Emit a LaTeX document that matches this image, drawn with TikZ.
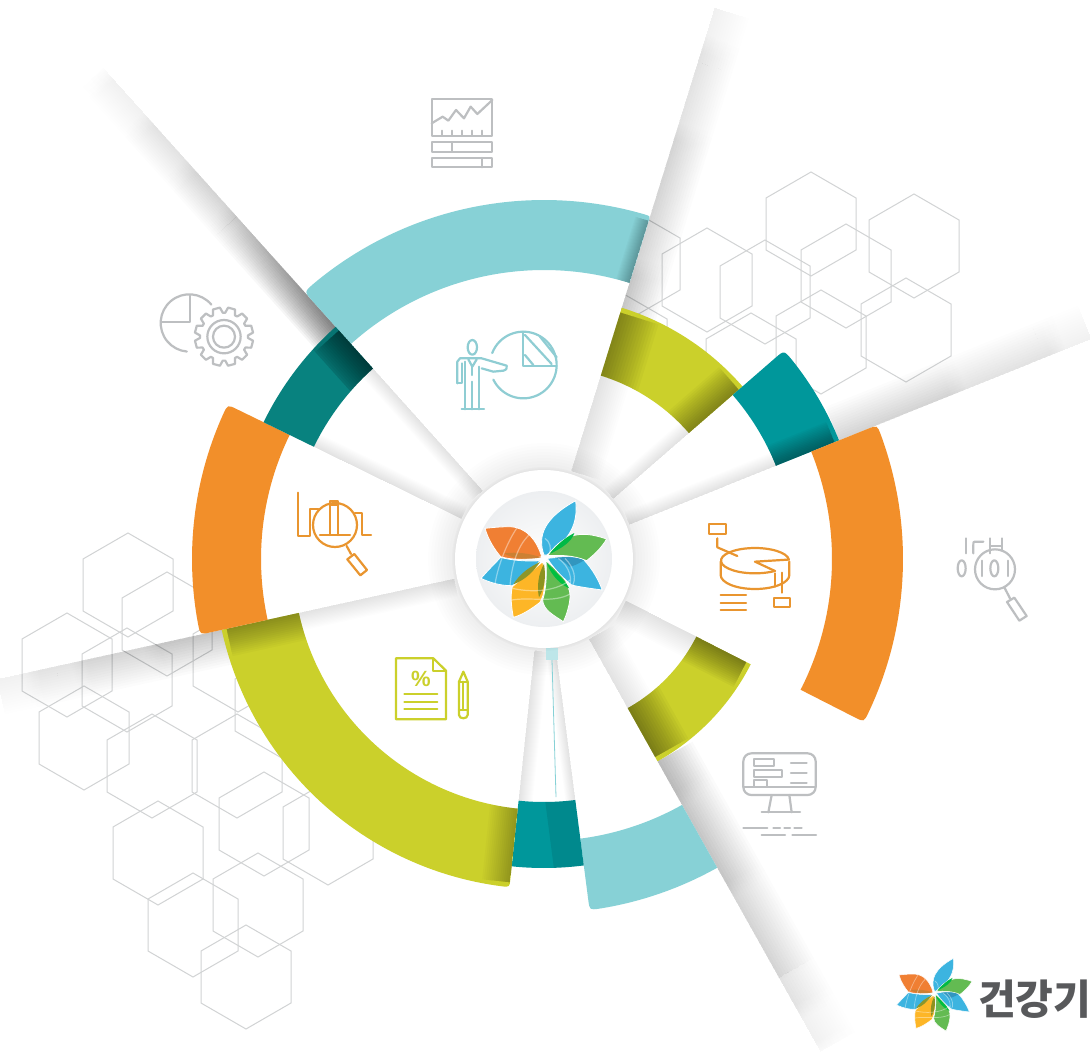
\documentclass[tikz,border=0pt]{standalone}
\usepackage{fontspec}
\newfontfamily\kr{Noto Sans CJK KR}
\newfontfamily\lib{Liberation Sans}
\definecolor{lteal}{HTML}{87D1D6}
\definecolor{ygreen}{HTML}{CBD02B}
\definecolor{dteal}{HTML}{00979B}
\definecolor{dteal2}{HTML}{08827F}
\definecolor{oran}{HTML}{F28F2A}
\definecolor{hexc}{HTML}{D1D3D4}
\definecolor{icg}{HTML}{BDBFC1}
\definecolor{ict}{HTML}{8FCDD3}
\definecolor{ico}{HTML}{E9952F}
\definecolor{lblue}{HTML}{3CB4E0}
\definecolor{lgreen}{HTML}{63BB52}
\definecolor{lorange}{HTML}{F07F33}
\definecolor{lyellow}{HTML}{FDB627}
\definecolor{discedge}{HTML}{EDEFF1}
\definecolor{brandgray}{HTML}{58595B}
\tikzset{
 hexline/.style={draw=hexc,line width=1pt,line join=miter},
 icon/.style={line width=2.2pt,line cap=round,line join=round},
}
% sector set-up
\newcommand\setsec[6]{\def\aA{#1}\def\aB{#2}\def\rI{#3}\def\rO{#4}%
 \pgfmathsetmacro\aAd{#1+#5/#4*57.3}\pgfmathsetmacro\aBd{#2-#6/#4*57.3}%
 \pgfmathsetmacro\rAm{#4-#5}\pgfmathsetmacro\rBm{#4-#6}}
\newcommand\secpath{(\aA:\rI) -- (\aA:\rAm) .. controls (\aA:\rO) .. (\aAd:\rO) arc[start angle=\aAd,end angle=\aBd,radius=\rO] .. controls (\aB:\rO) .. (\aB:\rBm) -- (\aB:\rI) arc[start angle=\aB,end angle=\aA,radius=\rI] -- cycle}
% gradient ray: angle, dir, r0, r1, width, alpha0, alpha1
\newcommand\fadeRay[7]{%
 \begin{scope}[rotate=#1]
 \pgfmathtruncatemacro\segs{(#6==#7) ? 1 : max(1,round((#4-#3)/18))}
 \pgfmathsetmacro\seglen{(#4-#3)/\segs}
 \foreach \k in {1,...,14}{
  \pgfmathsetmacro\phs{(\segs==1) ? 0 : mod(\k*0.382,1)}
  \foreach \j in {0,...,\segs}{
   \pgfmathsetmacro\ra{max(#3,#3+\seglen*(\j-1+\phs))}
   \pgfmathsetmacro\rb{min(#4,#3+\seglen*(\j+\phs))}
   \pgfmathsetmacro\al{(#6+(#7-#6)*((\ra+\rb)/2-#3)/(#4-#3))/14}
   \fill[black,fill opacity=\al] (\ra,0) rectangle (\rb,#2*#5*\k/14);
  }}
 \end{scope}}
\newcommand\ringshade[5]{\begin{scope}\clip \secpath;\fadeRay{#1}{#2}{\rI-5}{\rO+5}{#3}{#4}{#5}\end{scope}}
\newcommand\ringband[4]{\begin{scope}\clip \secpath;\begin{scope}[rotate=#1]\fill[black,fill opacity=#4] (\rI-5,0) rectangle (\rO+5,#2*#3);\end{scope}\end{scope}}
\newcommand\pie[3]{\fill[white] (0,0) -- (#1:#3) arc[start angle=#1,end angle=#2,radius=#3] -- cycle;}
% logo
\newcommand\logo[4]{%
 \begin{scope}[shift={(#1,#2)},scale=#3,shift={(-345,-350)}]
 \tikzset{pet/.style={draw=white,line width=#4}}
 \fill[lorange,pet] (335,350) .. controls (320,300) and (290,262) .. (240,260) .. controls (215,260) and (190,262) .. (165,265) .. controls (175,300) and (195,330) .. (212,350) .. controls (250,362) and (300,358) .. (335,350) -- cycle;
 \fill[lblue,pet] (330,362) .. controls (285,365) and (240,360) .. (212,352) .. controls (190,375) and (170,395) .. (153,415) .. controls (185,430) and (215,437) .. (247,437) .. controls (275,415) and (310,390) .. (330,362) -- cycle;
 \fill[lyellow,pet] (338,365) .. controls (350,420) and (345,460) .. (330,487) .. controls (300,510) and (275,525) .. (250,532) .. controls (245,505) and (240,470) .. (247,440) .. controls (275,415) and (310,390) .. (338,365) -- cycle;
 \fill[lgreen,pet] (348,362) .. controls (385,395) and (420,420) .. (420,470) .. controls (420,490) and (410,525) .. (400,545) .. controls (370,525) and (340,510) .. (338,480) .. controls (350,440) and (350,400) .. (348,362) -- cycle;
 \fill[lblue,pet] (352,355) .. controls (400,350) and (440,345) .. (462,360) .. controls (490,390) and (505,420) .. (517,450) .. controls (480,445) and (445,440) .. (425,435) .. controls (400,415) and (370,385) .. (352,355) -- cycle;
 \fill[lblue,pet] (342,345) .. controls (322,290) and (340,235) .. (437,182) .. controls (445,250) and (420,300) .. (350,345) -- cycle;
 \fill[lgreen,pet] (352,347) .. controls (395,290) and (440,265) .. (530,297) .. controls (510,330) and (490,345) .. (470,362) .. controls (430,345) and (390,345) .. (352,347) -- cycle;
 % overlaps
 \fill[green!45!teal] (358,342) .. controls (385,310) and (410,290) .. (433,279) .. controls (425,305) and (395,325) .. (358,342) -- cycle;
 \fill[cyan!50!teal] (375,353) .. controls (410,350) and (440,350) .. (462,361) .. controls (445,372) and (430,378) .. (418,380) .. controls (405,365) and (390,358) .. (375,353) -- cycle;
 \fill[green!50!teal] (350,368) .. controls (375,395) and (400,415) .. (418,445) .. controls (395,435) and (365,410) .. (350,368) -- cycle;
 \fill[olive!70!lgreen] (342,372) .. controls (348,410) and (345,440) .. (327,472) .. controls (320,440) and (325,400) .. (342,372) -- cycle;
 \fill[olive!60!lgreen] (330,366) .. controls (310,395) and (285,420) .. (250,433) .. controls (270,400) and (300,380) .. (330,366) -- cycle;
 \fill[brown!80!orange] (222,340) .. controls (260,335) and (300,340) .. (333,352) .. controls (300,358) and (255,360) .. (222,340) -- cycle;
 % latitude lines
 \begin{scope}[white,opacity=.4,line width=#4*1.5]
 \draw (262,262) .. controls (235,300) and (205,370) .. (195,432);
 \draw (297,285) .. controls (260,320) and (245,380) .. (240,437);
 \draw (248,445) .. controls (290,455) and (370,460) .. (420,420);
 \draw (245,480) .. controls (300,470) and (370,490) .. (420,462);
 \draw (385,355) .. controls (420,380) and (430,420) .. (415,450);
 \draw (405,355) .. controls (435,385) and (440,420) .. (425,440);
 \draw (345,295) .. controls (360,305) and (365,325) .. (358,342);
 \end{scope}
 \end{scope}}
\begin{document}
\begin{tikzpicture}[x=1pt,y=-1pt]
\useasboundingbox (0,0) rectangle (1090,1052);
\fill[white] (0,0) rectangle (1090,1052);
% hexagons
\foreach \x/\y in {811/224,707/280,765/292,846/276,914/246,821/342,906/330,751/365,635/264,622/345,
 128/585,167/624,67/665,127/680,84/738,238/660,280/705,152/766,237/766,264/824,328/833,158/853,258/905,193/925,246/977}{
 \draw[hexline] (\x,\y) ++(0,-52) -- ++(45,26) -- ++(0,52) -- ++(-45,26) -- ++(-45,-26) -- ++(0,-52) -- cycle;
}
\begin{scope}[shift={(544,559)},x=1pt,y=1pt]
 % white interiors of the sectors
 \pie{72.8}{131.9}{360}
 \pie{41}{72.8}{193}
 \pie{21.9}{41}{250}
 \pie{-27}{21.9}{290}
 \pie{-60.7}{-27}{172}
 \pie{-82.6}{-60.7}{282}
 \pie{-96}{-82.6}{243}
 \pie{192.4}{264}{251}
 \pie{154}{192.4}{284}
 \pie{131.9}{154}{257}
 % halo
 \foreach \r in {92,95,...,116}{\fill[black,fill opacity=.009] (0,0) circle[radius=\r];}
 % rays
 \fadeRay{72.8}{-1}{92}{192}{30}{.12}{.12}
 \fadeRay{72.8}{-1}{260}{520}{36}{.21}{.11}
 \fadeRay{72.8}{-1}{520}{577}{36}{.11}{.03}
 \fadeRay{41}{1}{92}{194}{14}{.09}{.09}
 \fadeRay{21.9}{1}{92}{251}{14}{.09}{.09}
 \fadeRay{21.9}{1}{318}{540}{36}{.19}{.10}
 \fadeRay{21.9}{1}{540}{590}{36}{.10}{.04}
 \fadeRay{-27}{-1}{92}{173}{24}{.11}{.11}
 \fadeRay{-60.7}{1}{92}{172}{28}{.12}{.12}
 \fadeRay{-60.7}{1}{232}{480}{40}{.27}{.14}
 \fadeRay{-60.7}{1}{480}{565}{40}{.14}{.02}
 \fadeRay{-96}{1}{92}{243}{14}{.11}{.11}
 \fadeRay{-82.6}{-1}{92}{243}{10}{.09}{.09}
 \fadeRay{192.4}{1}{92}{251}{18}{.11}{.11}
 \fadeRay{192.4}{1}{325}{500}{36}{.25}{.12}
 \fadeRay{192.4}{1}{500}{560}{36}{.12}{.04}
 \fadeRay{131.9}{1}{92}{258}{14}{.11}{.11}
 \fadeRay{131.9}{1}{310}{460}{30}{.62}{.2}
 \fadeRay{131.9}{1}{460}{660}{30}{.2}{.02}
 \fadeRay{154}{-1}{92}{256}{14}{.11}{.11}
 % rings
 \setsec{72.8}{131.9}{289}{359}{5}{12}
 \fill[lteal] \secpath; \ringshade{72.8}{1}{14}{.28}{.28}
 \setsec{41}{72.8}{192}{263}{0}{0}
 \fill[ygreen] \secpath; \ringshade{72.8}{-1}{40}{.40}{.40}\ringshade{41}{1}{30}{.40}{.40}
 \setsec{21.9}{41}{250}{318}{0}{12}
 \fill[dteal] \secpath; \ringshade{21.9}{1}{22}{.36}{.36}
 \setsec{-27}{21.9}{288}{359}{10}{10}
 \fill[oran] \secpath;
 \setsec{-60.7}{-27}{171}{232}{0}{0}
 \fill[ygreen] \secpath; \ringshade{-27}{-1}{28}{.42}{.42}\ringshade{-60.7}{1}{38}{.46}{.46}
 \setsec{-82.6}{-60.7}{282}{354}{10}{0}
 \fill[lteal] \secpath;
 \setsec{-96}{-82.6}{243}{309}{0}{0}
 \fill[dteal] \secpath; \ringband{-82.6}{-1}{30}{.09}
 \setsec{192.4}{264}{251}{330}{0}{8}
 \fill[ygreen] \secpath; \ringshade{192.4}{1}{28}{.35}{.35}\ringshade{264}{-1}{28}{.25}{.25}
 \setsec{154}{192.4}{283}{352}{10}{10}
 \fill[oran] \secpath;
 \setsec{131.9}{154}{256}{312}{0}{0}
 \fill[dteal2] \secpath; \ringband{131.9}{1}{32}{.1}\ringshade{131.9}{1}{32}{.55}{.55}
\end{scope}
% slit detail
\fill[lteal!55] (546,648) rectangle (558,660);
\draw[lteal,line width=.8pt] (552,660) -- (556,797);
% centre disc
\foreach \r in {1,2,3}{\fill[black,fill opacity=.012] (544,559) circle[radius=89+\r];}
\fill[white] (544,559) circle[radius=89];
\shade[inner color=white,outer color=discedge] (544,559) circle[radius=68];
\logo{545}{556.7}{0.3333}{.8pt}
% brand mark
\logo{935}{992}{0.2}{.5pt}
\node[anchor=west,inner sep=0pt,text=brandgray] (brand) at (978,999) {\fontsize{41}{41}\selectfont\kr\bfseries 건강기};
% icon: chart (top)
\begin{scope}[shift={(420,90)},scale=1/3,icon,icg]
 \draw (35,28) rectangle (217,137);
 \draw (35,100) -- (68,80) -- (85,92) -- (108,60) -- (132,85) -- (152,50) -- (172,72) -- (217,30);
 \foreach \x in {65,95,126,157,187}{\draw (\x,122) -- (\x,137);}
 \draw (35,157) rectangle (217,185); \draw (97,157) -- (97,185);
 \draw (35,204) rectangle (217,232); \draw (187,204) -- (187,232);
\end{scope}
% icon: presenter
\begin{scope}[shift={(440,320)},scale=1/3,icon,ict]
 \draw (97,82) ellipse[x radius=14,y radius=22];
 \draw (52,190) -- (52,125) -- (60,115) -- (125,115) -- (200,137) .. controls (200,148) .. (190,152) -- (160,155) -- (125,145);
 \draw (65,130) -- (65,190) -- (52,190);
 \draw (75,125) -- (75,268); \draw (118,140) -- (118,268); \draw (97,185) -- (97,268);
 \draw (65,268) -- (132,268);
 \draw (85,118) -- (97,140) -- (110,118); \draw (97,140) -- (97,165);
 \draw (156.6,99.2) arc[start angle=201,end angle=514,radius=100];
 \draw (250,35) -- (250,137) -- (350,137);
 \draw (255,105) -- (280,135); \draw (255,45) -- (335,132); \draw (300,50) -- (350,112);
\end{scope}
% icon: magnifier over bars
\begin{scope}[shift={(285,480)},scale=1/3,icon,ico]
 \draw (40,38) -- (40,167) -- (75,167) -- (75,88) -- (100,88);
 \draw (105,165) -- (195,165);
 \draw (135,165) -- (135,62) -- (160,62) -- (160,165); \draw (135,75) -- (160,75);
 \draw (210,100) -- (232,100) -- (232,165) -- (258,165);
 \draw (150,135) circle[radius=66];
 \draw (185,198) -- (198,222);
 \draw (187,238) -- (208,222) -- (246,270) -- (226,286) -- cycle;
\end{scope}
% icon: 3D pie
\begin{scope}[shift={(700,510)},scale=1/3,icon,ico]
 \draw (27,42) rectangle (77,72);
 \draw (52,85) -- (52,112) -- (112,138);
 \draw (266.6,148.7) arc[start angle=-5,end angle=-306,x radius=102,y radius=38];
 \draw (266.6,148.7) -- (165,155) -- (225,183);
 \draw (62,155) -- (62,195) arc[start angle=180,end angle=0,x radius=103,y radius=42] -- (268,155);
 \draw (225,190) -- (225,230); \draw (245,188) -- (245,248);
 \draw (222,263) rectangle (270,292);
 \draw (62,256) -- (138,256); \draw (62,279) -- (138,279); \draw (62,301) -- (138,301);
\end{scope}
% icon: document and pencil
\begin{scope}[shift={(385,650)},scale=1/3,icon,ygreen]
 \draw (33,25) -- (145,25) -- (183,62) -- (183,208) -- (33,208) -- cycle;
 \draw (145,25) -- (145,62) -- (183,62);
 \node[inner sep=0pt,text=ygreen] (pct) at (108,88) {\lib\bfseries\fontsize{22}{22}\selectfont\%};
 \draw (58,133) -- (157,133); \draw (58,156) -- (157,156); \draw (58,178) -- (157,178);
 \draw (222,95) -- (235,65) -- (248,95) -- (248,195) .. controls (248,208) and (222,208) .. (222,195) -- cycle;
 \draw (222,95) -- (248,95); \draw (235,95) -- (235,180); \draw (222,180) -- (248,180);
\end{scope}
% icon: binary magnifier
\begin{scope}[shift={(945,530)},scale=1/3,icon,icg]
 \draw (62,25) -- (62,70);
 \draw (115,35) -- (95,35) .. controls (85,35) .. (85,45) -- (85,70);
 \draw (135,25) -- (135,70); \draw (170,25) -- (170,62); \draw (135,48) -- (170,48);
 \draw (50,115) ellipse[x radius=12,y radius=24];
 \draw (110,92) -- (110,138);
 \draw (148,115) ellipse[x radius=12,y radius=24];
 \draw (190,92) -- (190,138);
 \draw (150,118) circle[radius=60];
 \draw (178,172) -- (195,205);
 \draw (186,216) -- (208,203) -- (245,258) -- (223,272) -- cycle;
\end{scope}
% icon: monitor
\begin{scope}[shift={(735,745)},scale=1/3,icon,icg]
 \draw[rounded corners=8] (25,25) rectangle (242,150);
 \draw (25,125) -- (242,125);
 \draw (110,150) -- (100,202); \draw (163,150) -- (170,202); \draw (80,202) -- (195,202);
 \draw (58,42) rectangle (118,62); \draw (58,74) rectangle (140,95); \draw (58,105) rectangle (95,125);
 \draw (168,53) -- (215,53); \draw (168,85) -- (215,85); \draw (168,115) -- (215,115);
 \draw (25,250) -- (97,250); \draw (115,250) -- (135,250); \draw (148,250) -- (165,250); \draw (178,250) -- (200,250);
 \draw (80,270) -- (150,270); \draw (172,270) -- (243,270);
\end{scope}
% icon: pie and gear
\begin{scope}[shift={(150,285)},scale=1/3,icon,icg]
 \draw (183.9,58.7) arc[start angle=-40,end angle=-265,radius=86];
 \draw (120,32) -- (120,112) -- (35,112);
 \begin{scope}[shift={(222,155)}]
  \draw (3:72) \foreach \a in {0,30,...,330}{ -- (\a+3:72) -- (\a+8:88) -- (\a+22:88) -- (\a+27:72)} -- cycle;
  \draw (0,0) circle[radius=50];
  \draw (0,0) circle[radius=33];
 \end{scope}
\end{scope}
\end{tikzpicture}
\end{document}
